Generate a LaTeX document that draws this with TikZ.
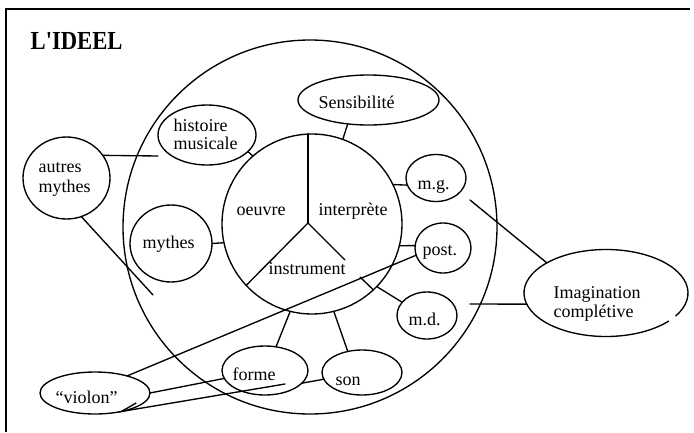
\documentclass[tikz,border=0pt]{standalone}
\usepackage{fontspec}
\setmainfont{Liberation Serif}
\usetikzlibrary{shapes.geometric,arrows.meta}
\begin{document}
\begin{tikzpicture}[x=1pt,y=-1pt,line width=1.35pt,
  ell/.style={ellipse,draw,inner sep=0pt,outer sep=0pt},
  ring/.style={circle,draw,inner sep=0pt,outer sep=0pt},
  txt/.style={anchor=base west,inner sep=0pt,align=left,font=\fontsize{18}{19}\selectfont},
  conn/.style={line cap=round}]
\useasboundingbox (0,0) rectangle (694,432);
% frame
\coordinate (ftl) at (6,9);
\coordinate (ftr) at (690,9);
\coordinate (fbl) at (6,432);
\draw[line width=1.6pt] (ftr) -- (ftl) -- (fbl);
% title
\node[anchor=base west,inner sep=0pt,font=\bfseries\fontsize{26}{28}\selectfont] (title) at (30,49) {\scalebox{0.87}[1]{L\textquotesingle IDEEL}};
% circles
\node[ring,minimum size=374pt] (outer) at (310,227) {};
\node[ring,minimum size=180pt] (inner) at (312,224) {};
% ellipses
\node[ell,minimum width=141pt,minimum height=50pt] (sens) at (368.5,100) {};
\node[ell,minimum width=98pt,minimum height=60pt] (hist) at (207,135) {};
\node[ell,minimum width=87pt,minimum height=82pt] (am) at (66.5,178) {};
\node[ell,minimum width=82pt,minimum height=77pt] (my) at (171,243.5) {};
\node[ell,minimum width=60pt,minimum height=47pt] (mg) at (436,178) {};
\node[ell,minimum width=56pt,minimum height=50pt] (po) at (443,248) {};
\node[ell,minimum width=60pt,minimum height=47pt] (md) at (427,315.5) {};
\node[ellipse,inner sep=0pt,outer sep=0pt,minimum width=164pt,minimum height=87pt] (im) at (606,293) {};
\draw ([shift={(-32:82pt and 43.5pt)}]im.center) arc[start angle=-32,end angle=320,x radius=82pt,y radius=43.5pt];
\node[ell,minimum width=80pt,minimum height=45pt] (so) at (362,372.5) {};
\node[ell,minimum width=86pt,minimum height=49pt] (fo) at (265,370.5) {};
\node[ell,minimum width=110pt,minimum height=42pt] (vi) at (95,393) {};
% texts
\node[txt] (tsens) at (318,108) {Sensibilité};
\node[txt] (thist) at (173,149) {histoire\\[-1pt]musicale};
\node[txt] (tam) at (38,192) {autres\\[1pt]mythes};
\node[txt] (tmy) at (142,248) {mythes};
\node[txt] (toe) at (236,215) {oeuvre};
\node[txt] (tint) at (318,215) {interprète};
\node[txt] (tins) at (268,274) {instrument};
\node[txt] (tmg) at (417,189) {m.g.};
\node[txt] (tpo) at (422,255) {post.};
\node[txt] (tmd) at (408,325) {m.d.};
\node[txt] (tim) at (553,317) {Imagination\\complétive};
\node[txt] (tfo) at (232,380) {forme};
\node[txt] (tso) at (335,385) {son};
\node[txt] (tvi) at (55,403) {“violon”};
% inner divisions
\coordinate (j) at (308,223);
\coordinate (c7) at (345,260);
\draw[conn] (j) -- (j |- inner.north);
\draw[conn] (j) -- (inner.-137);
\draw[conn] (j) -- (c7);
% free ends
\coordinate (c1) at (158,156);
\coordinate (c2) at (153,295);
\coordinate (c3) at (470,200);
\coordinate (c4) at (470,304);
\coordinate (c5) at (285,384);
\coordinate (c6) at (360,277);
% connectors
\draw[conn] (sens.-131) -- (inner.70);
\draw[conn] (hist.-22) -- (inner.131);
\draw[conn] (am.32) -- (c1);
\draw[conn] (am.-69) -- (c2);
\draw[conn] (my.east) -- (inner.192);
\draw[conn] (mg.-166) -- (inner.26);
\draw[conn] (c3) -- (im.153);
\draw[conn] (im.-172) -- (c4);
\draw[conn] (po.175) -- (inner.-14);
\draw[conn] (po.-165) -- (vi.28);
\draw[conn] (md.152) -- (inner.-44);
\draw[conn] (c6) -- (inner.-47);
\draw[conn] (inner.-104) -- (fo.65);
\draw[conn] (inner.-76) -- (so.124);
\draw[conn] (fo.-19) -- (so.-170);
\draw[conn] (vi.east) -- (fo.-169);
\draw[conn,-{Straight Barb[harpoon,swap,length=16pt,width=12pt]}] (c5) -- (vi.-40);
\end{tikzpicture}
\end{document}
